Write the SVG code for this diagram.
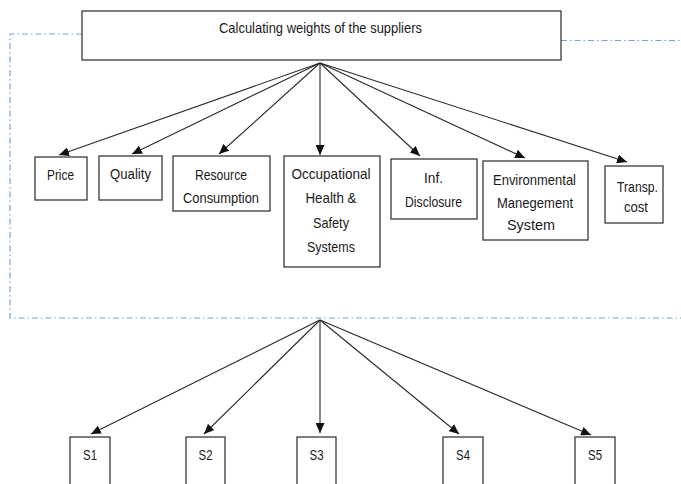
<svg xmlns="http://www.w3.org/2000/svg" width="681" height="484" viewBox="0 0 681 484">
<style>
.box{fill:#fff;stroke:#3a3a3a;stroke-width:1.3}
.t{font-family:"Liberation Sans",Arial,sans-serif;font-size:15px;fill:#1a1a1a;text-anchor:middle}
.c{stroke:#2a2a2a;stroke-width:1.1;fill:none;marker-end:url(#ah)}
.d{stroke:#6fa6dc;stroke-width:1.2;fill:none;stroke-dasharray:6 3 1.5 3}
</style>
<defs>
<marker id="ah" markerUnits="userSpaceOnUse" markerWidth="10" markerHeight="9" refX="10" refY="4.5" orient="auto">
<path d="M0,0 L10,4.5 L0,9 z" fill="#111"/>
</marker>
</defs>
<g id="boundary">
<path class="d" d="M82,34 H10 V318 H681"/>
<path class="d" d="M561,40.5 H681"/>
</g>
<g id="connectors">
<line class="c" x1="320" y1="63" x2="59" y2="155"/>
<line class="c" x1="320" y1="63" x2="132" y2="154"/>
<line class="c" x1="320" y1="63" x2="219" y2="154"/>
<line class="c" x1="320" y1="63" x2="320" y2="155"/>
<line class="c" x1="320" y1="63" x2="420" y2="156"/>
<line class="c" x1="320" y1="63" x2="525" y2="158"/>
<line class="c" x1="320" y1="63" x2="627" y2="162"/>
<line class="c" x1="320" y1="320" x2="91" y2="434"/>
<line class="c" x1="320" y1="320" x2="204" y2="434"/>
<line class="c" x1="320" y1="320" x2="320" y2="433"/>
<line class="c" x1="320" y1="320" x2="459" y2="434"/>
<line class="c" x1="320" y1="320" x2="591" y2="435"/>
</g>
<g id="title">
<rect class="box" x="82" y="11" width="479" height="49"/>
<text class="t" x="320.5" y="33" textLength="203" lengthAdjust="spacingAndGlyphs">Calculating weights of the suppliers</text>
</g>
<g id="price">
<rect class="box" x="35" y="157" width="52" height="43"/>
<text class="t" x="60.5" y="180" textLength="27" lengthAdjust="spacingAndGlyphs">Price</text>
</g>
<g id="quality">
<rect class="box" x="99" y="156" width="63" height="44"/>
<text class="t" x="130.5" y="179" textLength="41" lengthAdjust="spacingAndGlyphs">Quality</text>
</g>
<g id="resource">
<rect class="box" x="173" y="156" width="97" height="55"/>
<text class="t" x="221" y="180" textLength="52" lengthAdjust="spacingAndGlyphs">Resource</text>
<text class="t" x="221" y="203" textLength="76" lengthAdjust="spacingAndGlyphs">Consumption</text>
</g>
<g id="occupational">
<rect class="box" x="284" y="156" width="96" height="111"/>
<text class="t" x="331" y="179" textLength="79" lengthAdjust="spacingAndGlyphs">Occupational</text>
<text class="t" x="331" y="203" textLength="51" lengthAdjust="spacingAndGlyphs">Health &amp;</text>
<text class="t" x="331" y="228" textLength="36" lengthAdjust="spacingAndGlyphs">Safety</text>
<text class="t" x="331" y="252" textLength="48" lengthAdjust="spacingAndGlyphs">Systems</text>
</g>
<g id="disclosure">
<rect class="box" x="391" y="159" width="86" height="60"/>
<text class="t" x="433.5" y="183" textLength="19" lengthAdjust="spacingAndGlyphs">Inf.</text>
<text class="t" x="433.5" y="207" textLength="57" lengthAdjust="spacingAndGlyphs">Disclosure</text>
</g>
<g id="environmental">
<rect class="box" x="483" y="161" width="105" height="79"/>
<text class="t" x="534.5" y="185" textLength="83" lengthAdjust="spacingAndGlyphs">Environmental</text>
<text class="t" x="535" y="208" textLength="76" lengthAdjust="spacingAndGlyphs">Manegement</text>
<text class="t" x="531" y="230" textLength="48" lengthAdjust="spacingAndGlyphs">System</text>
</g>
<g id="transp">
<rect class="box" x="605" y="166" width="58" height="57"/>
<text class="t" x="637.5" y="192" textLength="41" lengthAdjust="spacingAndGlyphs">Transp.</text>
<text class="t" x="636" y="212" textLength="24" lengthAdjust="spacingAndGlyphs">cost</text>
</g>
<g id="s1">
<rect class="box" x="70" y="437" width="40" height="60"/>
<text class="t" x="90" y="460" textLength="14" lengthAdjust="spacingAndGlyphs">S1</text>
</g>
<g id="s2">
<rect class="box" x="186" y="437" width="39" height="60"/>
<text class="t" x="205.5" y="460" textLength="14" lengthAdjust="spacingAndGlyphs">S2</text>
</g>
<g id="s3">
<rect class="box" x="297" y="437" width="39" height="60"/>
<text class="t" x="316.5" y="460" textLength="14" lengthAdjust="spacingAndGlyphs">S3</text>
</g>
<g id="s4">
<rect class="box" x="443" y="437" width="40" height="60"/>
<text class="t" x="463" y="460" textLength="14" lengthAdjust="spacingAndGlyphs">S4</text>
</g>
<g id="s5">
<rect class="box" x="575" y="437" width="40" height="60"/>
<text class="t" x="595" y="460" textLength="14" lengthAdjust="spacingAndGlyphs">S5</text>
</g>
</svg>
